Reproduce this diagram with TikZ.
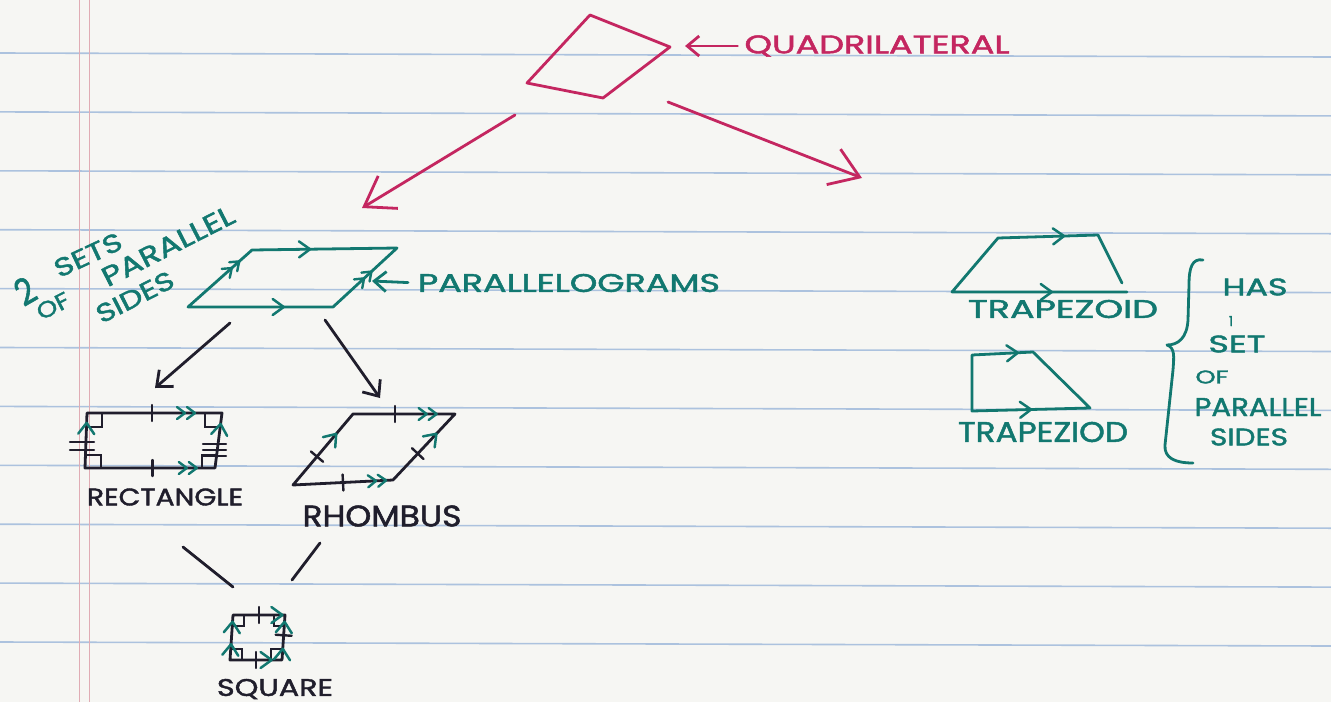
\documentclass[tikz,border=0pt]{standalone}
\usepackage{fontspec}
\setmainfont{Poppins}[RawFeature={embolden=1.6}]
\usetikzlibrary{arrows.meta,decorations.markings}

\definecolor{paper}{RGB}{246,246,243}
\definecolor{rulecol}{RGB}{172,194,222}
\definecolor{margincol}{RGB}{224,172,180}
\definecolor{inkred}{RGB}{196,38,96}
\definecolor{inkteal}{RGB}{18,120,112}
\definecolor{inkblack}{RGB}{32,30,44}

% lettering squeezed to a given width and cap height
\newcommand\hw[3]{\resizebox{#1pt}{#2pt}{#3}}

\tikzset{
  pen/.style={line width=2.8pt, line cap=round, line join=round},
  word/.style={inner sep=0pt, outer sep=0pt},
  bigarrow/.style={pen, inkred, -{Straight Barb[length=28pt,width=38pt]}},
  smallarrow/.style={pen, inkblack, -{Straight Barb[length=13pt,width=22pt]}},
  pointer/.style={pen, -{Straight Barb[length=12pt,width=20pt]}},
  chev/.style={postaction={decorate, decoration={markings, mark=at position #1 with
      {\draw[inkteal, line width=2.5pt, line cap=round, line join=round]
        (-11pt,-8pt) -- (0pt,0pt) -- (-11pt,8pt);}}}},
  dchev/.style={postaction={decorate, decoration={markings, mark=at position #1 with
      {\draw[inkteal, line width=2.4pt, line cap=round, line join=round]
        (-18pt,-6pt) -- (-10pt,0pt) -- (-18pt,6pt)
        (-8pt,-6pt) -- (0pt,0pt) -- (-8pt,6pt);}}}},
  hatch/.style={postaction={decorate, decoration={markings, mark=at position #1 with
      {\draw[inkblack, line width=2.4pt, line cap=round] (0pt,-8pt) -- (0pt,8pt);}}}},
}

\begin{document}
\begin{tikzpicture}[x=1pt,y=-1pt]
\useasboundingbox (0,0) rectangle (1331,702);

% notebook paper
\fill[paper] (0,0) rectangle (1331,702);
\foreach \k in {0,...,10}
  \draw[rulecol, line width=1.6pt] (0,{53+58.9*\k}) -- (1331,{57+58.9*\k});
\draw[margincol, line width=1pt] (79,0) -- (79,702) (89,0) -- (89,702);

% ---------- quadrilateral ----------
\coordinate (q1) at (590,15);
\coordinate (q2) at (670,47);
\coordinate (q3) at (603,98);
\coordinate (q4) at (527,83);
\draw[pen, inkred] (q1) -- (q2) -- (q3) -- (q4) -- cycle;
\node[word, text=inkred] (quad) at (877,46) {\hw{265}{18}{QUADRILATERAL}};
\coordinate (quadtip) at (685,46);
\draw[pointer, inkred, shorten <=7pt] (quad.west) -- (quadtip);

\coordinate (qa) at (515,115);
\coordinate (qb) at (362,208);
\coordinate (qc) at (668,102);
\coordinate (qd) at (862,178);
\draw[bigarrow] (qa) -- (qb);
\draw[bigarrow] (qc) -- (qd);

% ---------- parallelogram ----------
\coordinate (p1) at (252,250);
\coordinate (p2) at (397,248);
\coordinate (p3) at (333,307);
\coordinate (p4) at (188,307);
\draw[pen, inkteal] (p1) -- (p2) -- (p3) -- (p4) -- cycle;
\path[chev=0.4] (p1) -- (p2);
\path[chev=0.66] (p4) -- (p3);
\path[dchev=0.8] (p4) -- (p1);
\path[dchev=0.6] (p3) -- (p2);
\node[word, text=inkteal] (parlab) at (569,283) {\hw{302}{18}{PARALLELOGRAMS}};
\coordinate (partip) at (372,281);
\draw[pointer, inkteal, shorten <=10pt] (parlab.west) -- (partip);

\node[word, text=inkteal, rotate=30] (two) at (25,291) {\hw{18}{27}{2}};
\node[word, text=inkteal, rotate=25] (sets) at (88,255) {\hw{72}{18}{SETS}};
\node[word, text=inkteal, rotate=27] (of) at (53,306) {\hw{34}{16}{OF}};
\node[word, text=inkteal, rotate=27] (parallel) at (168,246) {\hw{145}{19}{PARALLEL}};
\node[word, text=inkteal, rotate=27] (sides) at (135,297) {\hw{84}{18}{SIDES}};

\coordinate (pc1) at (230,323);
\coordinate (pc2) at (155,388);
\coordinate (pc3) at (325,320);
\coordinate (pc4) at (380,398);
\draw[smallarrow] (pc1) -- (pc2);
\draw[smallarrow] (pc3) -- (pc4);

% ---------- rectangle ----------
\coordinate (r1) at (87,413);
\coordinate (r2) at (222,413);
\coordinate (r3) at (215,468);
\coordinate (r4) at (85,468);
\draw[pen, inkblack] (r1) -- (r2) -- (r3) -- (r4) -- cycle;
\draw[inkblack, line width=2.3pt] (87,427) -- (102,427) -- (102,413)
  (205,413) -- (205,427) -- (220,427)
  (86,455) -- (101,455) -- (101,468)
  (202,468) -- (202,455) -- (216,455);
\draw[inkblack, line width=2.3pt, line cap=round] (70,442) -- (94,442) (70,450) -- (94,450)
  (203,444) -- (226,444) (203,450) -- (226,450) (203,456) -- (226,456);
\path[hatch=0.48, dchev=0.8] (r1) -- (r2);
\path[hatch=0.52, dchev=0.86] (r4) -- (r3);
\path[chev=0.82] (r4) -- (r1);
\path[chev=0.8] (r3) -- (r2);
\node[word, text=inkblack] (rect) at (165,497) {\hw{156}{17}{RECTANGLE}};

% ---------- rhombus ----------
\coordinate (h1) at (293,485);
\coordinate (h2) at (353,414);
\coordinate (h3) at (455,414);
\coordinate (h4) at (393,480);
\draw[pen, inkblack] (h1) -- (h2) -- (h3) -- (h4) -- cycle;
\path[hatch=0.41, dchev=0.82] (h2) -- (h3);
\path[hatch=0.5, dchev=0.93] (h1) -- (h4);
\path[hatch=0.4, chev=0.72] (h1) -- (h2);
\path[hatch=0.4, chev=0.7] (h4) -- (h3);
\node[word, text=inkblack] (rhomb) at (382,516) {\hw{159}{21}{RHOMBUS}};

\coordinate (ra) at (183,547);
\coordinate (rb) at (233,587);
\coordinate (rc) at (320,543);
\coordinate (rd) at (292,580);
\draw[pen, inkblack] (ra) -- (rb);
\draw[pen, inkblack] (rc) -- (rd);

% ---------- square ----------
\coordinate (s1) at (233,615);
\coordinate (s2) at (285,615);
\coordinate (s3) at (282,660);
\coordinate (s4) at (230,660);
\draw[pen, inkblack] (s1) -- (s2) -- (s3) -- (s4) -- cycle;
\draw[inkblack, line width=2pt] (233,626) -- (244,626) -- (244,615)
  (231,649) -- (242,649) -- (242,660)
  (271,660) -- (271,649) -- (282,649)
  (274,615) -- (274,626) -- (285,626);
\path[hatch=0.5, chev=0.95] (s1) -- (s2);
\path[hatch=0.5, chev=0.8] (s4) -- (s3);
\path[chev=0.35, chev=0.85] (s4) -- (s1);
\path[chev=0.25, hatch=0.55, chev=0.85] (s3) -- (s2);
\node[word, text=inkblack] (sq) at (275,689) {\hw{116}{17}{SQUARE}};

% ---------- trapezoids ----------
\coordinate (t1) at (952,292);
\coordinate (t2) at (998,238);
\coordinate (t3) at (1098,235);
\coordinate (t4) at (1122,283);
\coordinate (t5) at (1127,292);
\draw[pen, inkteal] (t5) -- (t1) -- (t2) -- (t3) -- (t4);
\path[chev=0.66] (t2) -- (t3);
\path[chev=0.57] (t1) -- (t5);
\node[word, text=inkteal] (trap1) at (1063,309) {\hw{190}{18}{TRAPEZOID}};

\coordinate (u1) at (972,355);
\coordinate (u2) at (1033,352);
\coordinate (u3) at (1090,408);
\coordinate (u4) at (972,411);
\draw[pen, inkteal] (u1) -- (u2) -- (u3) -- (u4) -- cycle;
\path[chev=0.75] (u1) -- (u2);
\path[chev=0.5] (u4) -- (u3);
\node[word, text=inkteal] (trap2) at (1043,432) {\hw{170}{20}{TRAPEZIOD}};

% brace and its note
\draw[pen, inkteal] (1203,260) .. controls (1192,258) and (1189,268) .. (1189,285)
  -- (1188,320) .. controls (1187,338) and (1178,345) .. (1167,345)
  .. controls (1175,348) and (1174,356) .. (1173,370)
  -- (1165,445) .. controls (1164,458) and (1175,463) .. (1193,463);
\node[word, text=inkteal] (has) at (1255,287) {\hw{65}{17}{HAS}};
\node[word, text=inkteal] (one) at (1231,321) {\hw{4}{10}{1}};
\node[word, text=inkteal] (set) at (1237,344) {\hw{57}{17}{SET}};
\node[word, text=inkteal] (of2) at (1212,377) {\hw{33}{13}{OF}};
\node[word, text=inkteal] (par2) at (1258,407) {\hw{127}{18}{PARALLEL}};
\node[word, text=inkteal] (sides2) at (1249,437) {\hw{78}{17}{SIDES}};
\end{tikzpicture}
\end{document}
